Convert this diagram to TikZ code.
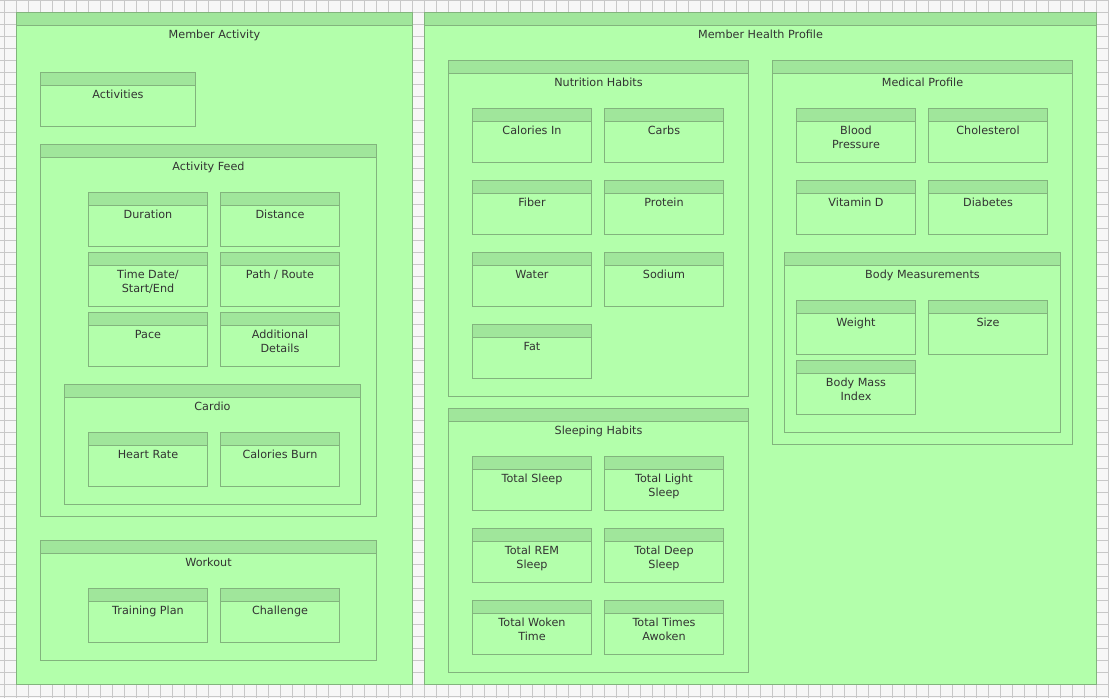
\documentclass[tikz,border=0pt]{standalone}
\usepackage{fontspec}
\setmainfont{DejaVu Sans}
\usetikzlibrary{positioning}
\definecolor{gridback}{RGB}{247,247,247}
\definecolor{gridline}{RGB}{200,200,200}
\definecolor{boxfill}{RGB}{179,255,171}
\definecolor{headfill}{RGB}{160,230,155}
\definecolor{boxline}{RGB}{130,180,125}
\definecolor{boxtext}{RGB}{51,51,51}

\begin{document}
\begin{tikzpicture}[%
x=1pt, y=-1pt,
box/.style={draw=boxline, fill=boxfill, line width=1pt, rectangle,
  anchor=north west, inner sep=0pt, outer sep=0pt,
  path picture={
    \fill[headfill] (path picture bounding box.north west)
      rectangle ([yshift=-13pt]path picture bounding box.north east);
    \draw[boxline, line width=1pt] ([yshift=-13pt]path picture bounding box.north west)
      -- ([yshift=-13pt]path picture bounding box.north east);
  }},
item/.style={box, minimum width=119pt, minimum height=54pt},
title/.style={font=\fontsize{11.2}{14}\selectfont, text=boxtext, align=center,
  inner sep=0pt, execute at begin node=\vphantom{d}},
]
\useasboundingbox (0,0) rectangle (1109,698);
%% background grid;
\fill[gridback] (0,0) rectangle (1109,698);
\begin{scope}
\clip (0,0) rectangle (1109,698);
\draw[gridline, line width=1pt, xshift=4.5pt, yshift=-0.5pt] (-12,0) grid[step=12pt] (1116,710);
\end{scope}
\begin{scope}[shift={(0.5,0.5)}]
%% member activity;
\node[box, minimum width=396pt, minimum height=672pt] (memberactivity) at (16,12) {};
\node[title, below=17pt of memberactivity.north] (memberactivitytext) {Member Activity};
\node[box, minimum width=155pt, minimum height=54pt] (activities) at (40,72) {};
\node[title, below=17pt of activities.north] (activitiestext) {Activities};
%% activity feed;
\node[box, minimum width=336pt, minimum height=372pt] (activityfeed) at (40,144) {};
\node[title, below=17pt of activityfeed.north] (activityfeedtext) {Activity Feed};
\node[item] (duration) at (88,192) {};
\node[title, below=17pt of duration.north] (durationtext) {Duration};
\node[item] (distance) at (220,192) {};
\node[title, below=17pt of distance.north] (distancetext) {Distance};
\node[item] (timedate) at (88,252) {};
\node[title, below=17pt of timedate.north] (timedatetext) {Time Date/\\Start/End};
\node[item] (pathroute) at (220,252) {};
\node[title, below=17pt of pathroute.north] (pathroutetext) {Path / Route};
\node[item] (pace) at (88,312) {};
\node[title, below=17pt of pace.north] (pacetext) {Pace};
\node[item] (details) at (220,312) {};
\node[title, below=17pt of details.north] (detailstext) {Additional\\Details};
%% cardio;
\node[box, minimum width=296pt, minimum height=120pt] (cardio) at (64,384) {};
\node[title, below=17pt of cardio.north] (cardiotext) {Cardio};
\node[item] (heartrate) at (88,432) {};
\node[title, below=17pt of heartrate.north] (heartratetext) {Heart Rate};
\node[item] (caloriesburn) at (220,432) {};
\node[title, below=17pt of caloriesburn.north] (caloriesburntext) {Calories Burn};
%% workout;
\node[box, minimum width=336pt, minimum height=120pt] (workout) at (40,540) {};
\node[title, below=17pt of workout.north] (workouttext) {Workout};
\node[item] (trainingplan) at (88,588) {};
\node[title, below=17pt of trainingplan.north] (trainingplantext) {Training Plan};
\node[item] (challenge) at (220,588) {};
\node[title, below=17pt of challenge.north] (challengetext) {Challenge};
%% member health profile;
\node[box, minimum width=672pt, minimum height=672pt] (healthprofile) at (424,12) {};
\node[title, below=17pt of healthprofile.north] (healthprofiletext) {Member Health Profile};
%% nutrition habits;
\node[box, minimum width=300pt, minimum height=336pt] (nutrition) at (448,60) {};
\node[title, below=17pt of nutrition.north] (nutritiontext) {Nutrition Habits};
\node[item] (caloriesin) at (472,108) {};
\node[title, below=17pt of caloriesin.north] (caloriesintext) {Calories In};
\node[item] (carbs) at (604,108) {};
\node[title, below=17pt of carbs.north] (carbstext) {Carbs};
\node[item] (fiber) at (472,180) {};
\node[title, below=17pt of fiber.north] (fibertext) {Fiber};
\node[item] (protein) at (604,180) {};
\node[title, below=17pt of protein.north] (proteintext) {Protein};
\node[item] (water) at (472,252) {};
\node[title, below=17pt of water.north] (watertext) {Water};
\node[item] (sodium) at (604,252) {};
\node[title, below=17pt of sodium.north] (sodiumtext) {Sodium};
\node[item] (fat) at (472,324) {};
\node[title, below=17pt of fat.north] (fattext) {Fat};
%% sleeping habits;
\node[box, minimum width=300pt, minimum height=264pt] (sleeping) at (448,408) {};
\node[title, below=17pt of sleeping.north] (sleepingtext) {Sleeping Habits};
\node[item] (totalsleep) at (472,456) {};
\node[title, below=17pt of totalsleep.north] (totalsleeptext) {Total Sleep};
\node[item] (lightsleep) at (604,456) {};
\node[title, below=17pt of lightsleep.north] (lightsleeptext) {Total Light\\Sleep};
\node[item] (remsleep) at (472,528) {};
\node[title, below=17pt of remsleep.north] (remsleeptext) {Total REM\\Sleep};
\node[item] (deepsleep) at (604,528) {};
\node[title, below=17pt of deepsleep.north] (deepsleeptext) {Total Deep\\Sleep};
\node[item] (wokentime) at (472,600) {};
\node[title, below=17pt of wokentime.north] (wokentimetext) {Total Woken\\Time};
\node[item] (timesawoken) at (604,600) {};
\node[title, below=17pt of timesawoken.north] (timesawokentext) {Total Times\\Awoken};
%% medical profile;
\node[box, minimum width=300pt, minimum height=384pt] (medical) at (772,60) {};
\node[title, below=17pt of medical.north] (medicaltext) {Medical Profile};
\node[item] (bloodpressure) at (796,108) {};
\node[title, below=17pt of bloodpressure.north] (bloodpressuretext) {Blood\\Pressure};
\node[item] (cholesterol) at (928,108) {};
\node[title, below=17pt of cholesterol.north] (cholesteroltext) {Cholesterol};
\node[item] (vitamind) at (796,180) {};
\node[title, below=17pt of vitamind.north] (vitamindtext) {Vitamin D};
\node[item] (diabetes) at (928,180) {};
\node[title, below=17pt of diabetes.north] (diabetestext) {Diabetes};
%% body measurements;
\node[box, minimum width=276pt, minimum height=180pt] (bodymeasure) at (784,252) {};
\node[title, below=17pt of bodymeasure.north] (bodymeasuretext) {Body Measurements};
\node[item] (weight) at (796,300) {};
\node[title, below=17pt of weight.north] (weighttext) {Weight};
\node[item] (size) at (928,300) {};
\node[title, below=17pt of size.north] (sizetext) {Size};
\node[item] (bmi) at (796,360) {};
\node[title, below=17pt of bmi.north] (bmitext) {Body Mass\\Index};
\end{scope}
\end{tikzpicture}
\end{document}
